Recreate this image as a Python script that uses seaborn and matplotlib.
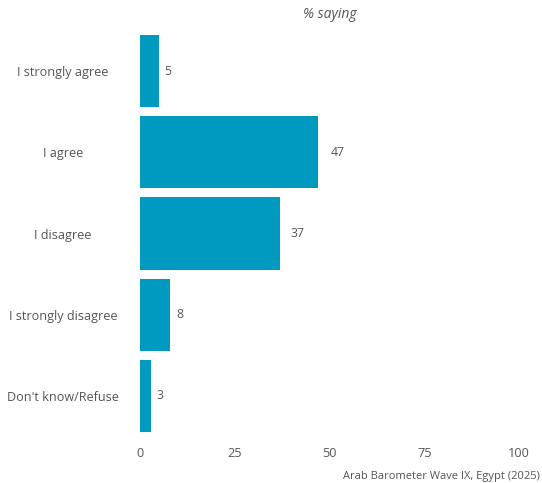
import matplotlib
matplotlib.use("Agg")
import matplotlib.pyplot as plt
import seaborn as sns
import pandas as pd

# Survey responses, % saying
responses = ["I strongly agree", "I agree", "I disagree", "I strongly disagree", "Don't know/Refuse"]
shares = [5, 47, 37, 8, 3]
x_ticks = [0, 25, 50, 75, 100]

df = pd.DataFrame({"response": responses, "share": shares})

sns.set_theme(style="white")
plt.rcParams["font.family"] = ["Open Sans", "DejaVu Sans"]

text_color = "#555555"
bar_color = "#0099BF"

fig = plt.figure(figsize=(5.42, 4.83), dpi=100)
ax = fig.add_axes([140 / 542, 1 - 436.6 / 483, 379 / 542, 406.2 / 483])

sns.barplot(data=df, x="share", y="response", order=responses, color=bar_color,
            width=0.89, saturation=1, ax=ax, edgecolor="none")

# value labels just past each bar end
for i, v in enumerate(shares):
    ax.text(v * 1.064 + 2.1, i, f"{v}", ha="center", va="center",
            fontsize=8.8, color=text_color)

ax.set_xlim(0, 100)
ax.set_ylim(4.5, -0.5)
ax.set_xticks(x_ticks)
ax.set_xticklabels([str(t) for t in x_ticks])
ax.set_xlabel("")
ax.set_ylabel("")
for s in ax.spines.values():
    s.set_visible(False)
ax.tick_params(axis="both", length=0, colors=text_color, labelsize=9.1)
ax.tick_params(axis="x", pad=7.5)
ax.tick_params(axis="y", pad=55.5)
for lbl in ax.get_yticklabels():
    lbl.set_horizontalalignment("center")
ax.grid(False)

fig.text(330 / 542, 1 - 15 / 483, "% saying", ha="center", va="center",
         fontsize=10, style="italic", color=text_color)
fig.text(540 / 542, 1 - 476 / 483, "Arab Barometer Wave IX, Egypt (2025)",
         ha="right", va="center", fontsize=8, color=text_color)

fig.savefig("out.png", dpi=100)
